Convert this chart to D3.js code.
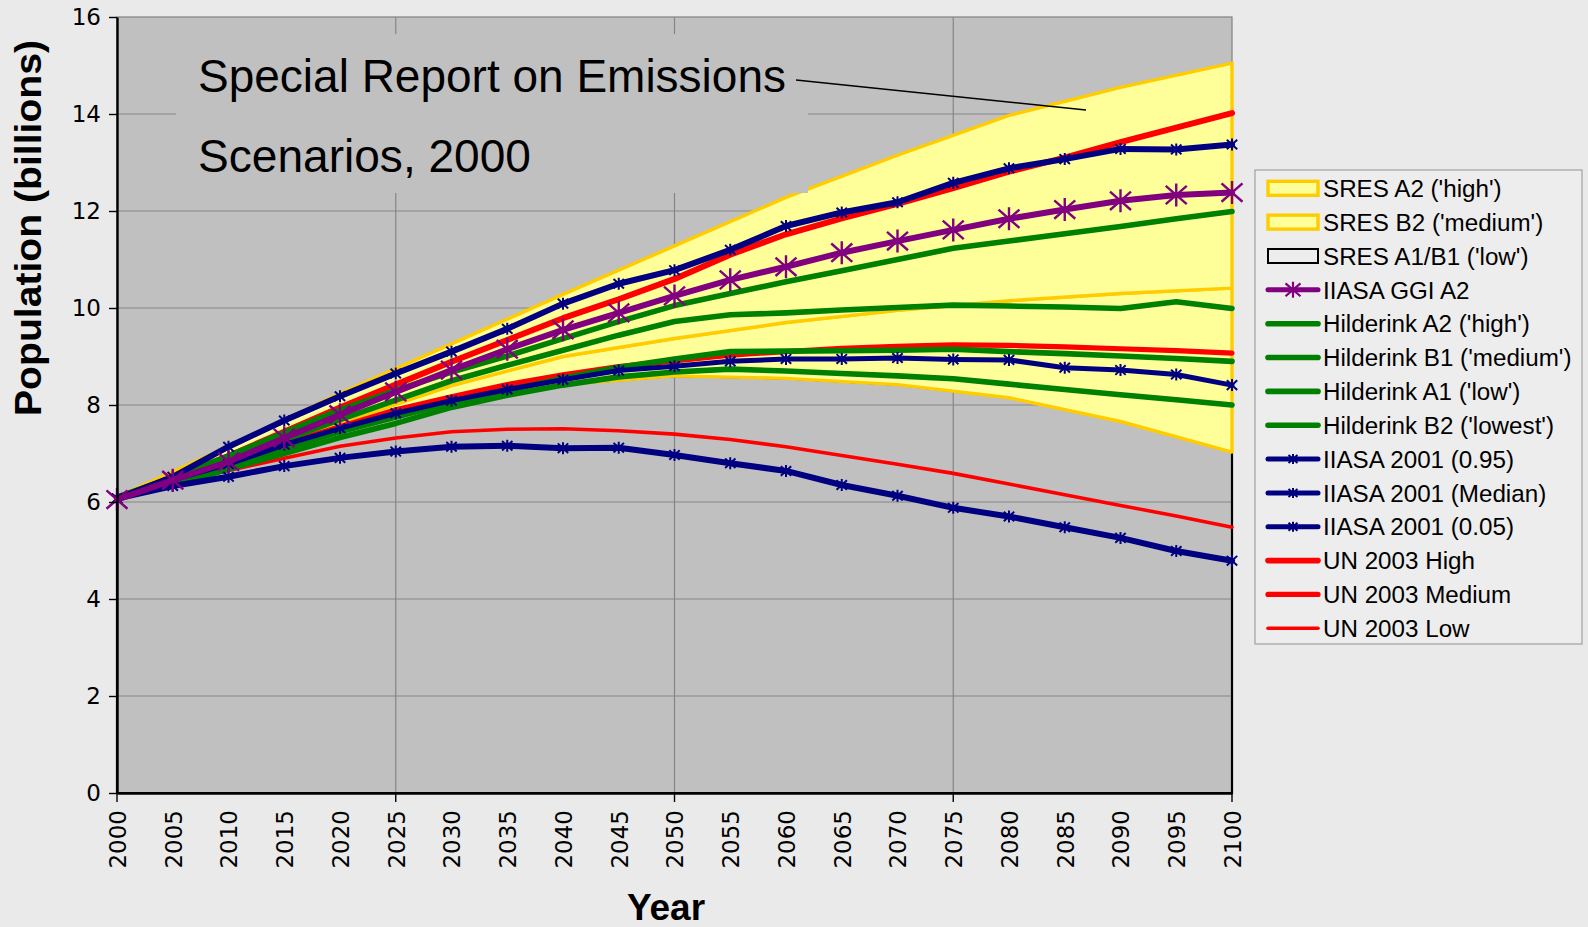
<!DOCTYPE html>
<html>
<head>
<meta charset="utf-8">
<script src="https://cdn.jsdelivr.net/npm/d3@7"></script>
<style>
  html, body { margin: 0; padding: 0; background: #eaeaea; }
  svg { display: block; }
</style>
</head>
<body>
<svg id="chart" width="1588" height="927"></svg>
<script>
// ---- data (world population, billions) ----
const sresYears  = [2000, 2010, 2020, 2030, 2040, 2050, 2060, 2070, 2080, 2090, 2100];
const sresHigh   = [6.1, 7.15, 8.24, 9.26, 10.28, 11.28, 12.28, 13.15, 13.97, 14.55, 15.05];
const sresMedium = [6.1, 6.95, 7.63, 8.4, 9.0, 9.37, 9.7, 9.95, 10.15, 10.3, 10.41];
const sresLow    = [6.1, 6.85, 7.55, 8.05, 8.42, 8.6, 8.55, 8.42, 8.15, 7.66, 7.03];

const years = [2000, 2005, 2010, 2015, 2020, 2025, 2030, 2035, 2040, 2045, 2050,
               2055, 2060, 2065, 2070, 2075, 2080, 2085, 2090, 2095, 2100];

const ggiA2 = [6.05, 6.45, 6.83, 7.32, 7.8, 8.27, 8.72, 9.15, 9.55, 9.9, 10.25,
               10.58, 10.85, 11.14, 11.38, 11.61, 11.84, 12.03, 12.21, 12.33, 12.38];
const hildA2 = [6.1, 6.5, 6.95, 7.43, 7.9, 8.3, 8.68, 9.01, 9.37, 9.72, 10.05,
                10.3, 10.54, 10.77, 11.0, 11.23, 11.38, 11.53, 11.68, 11.84, 11.99];
const hildB1 = [6.1, 6.45, 6.85, 7.28, 7.7, 8.1, 8.5, 8.82, 9.13, 9.44, 9.72,
                9.86, 9.9, 9.96, 10.01, 10.06, 10.04, 10.02, 9.99, 10.13, 9.99];
const hildA1 = [6.1, 6.4, 6.75, 7.1, 7.45, 7.75, 8.05, 8.3, 8.55, 8.78, 8.95,
                9.1, 9.11, 9.12, 9.13, 9.15, 9.1, 9.06, 9.01, 8.96, 8.9];
const hildB2 = [6.1, 6.35, 6.68, 7.0, 7.33, 7.62, 7.95, 8.2, 8.41, 8.58, 8.68,
                8.74, 8.7, 8.65, 8.6, 8.54, 8.43, 8.32, 8.21, 8.11, 8.0];
const iiasa95 = [6.07, 6.52, 7.14, 7.68, 8.18, 8.65, 9.1, 9.57, 10.09, 10.5, 10.78,
                 11.2, 11.69, 11.97, 12.18, 12.58, 12.88, 13.07, 13.28, 13.27, 13.37];
const iiasaMedian = [6.07, 6.45, 6.78, 7.18, 7.52, 7.83, 8.09, 8.32, 8.52, 8.71, 8.8,
                     8.9, 8.95, 8.95, 8.97, 8.94, 8.93, 8.77, 8.72, 8.63, 8.41];
const iiasa05 = [6.07, 6.33, 6.52, 6.74, 6.91, 7.04, 7.14, 7.16, 7.11, 7.12, 6.97,
                 6.8, 6.64, 6.35, 6.13, 5.88, 5.7, 5.48, 5.26, 4.99, 4.79];
const unHigh = [6.07, 6.5, 6.95, 7.45, 7.95, 8.42, 8.89, 9.34, 9.79, 10.18, 10.6,
                11.1, 11.52, 11.85, 12.15, 12.47, 12.81, 13.1, 13.42, 13.72, 14.02];
const unMedium = [6.07, 6.45, 6.83, 7.2, 7.55, 7.9, 8.17, 8.42, 8.62, 8.79, 8.91,
                  9.03, 9.1, 9.17, 9.21, 9.24, 9.23, 9.2, 9.16, 9.12, 9.07];
const unLow = [6.07, 6.38, 6.65, 6.9, 7.15, 7.32, 7.45, 7.5, 7.51, 7.47, 7.4,
               7.29, 7.14, 6.96, 6.78, 6.59, 6.37, 6.15, 5.93, 5.71, 5.48];

const yTickValues = [0, 2, 4, 6, 8, 10, 12, 14, 16];
const yGridValues = [2, 4, 6, 8, 10, 12, 14];
const xGridValues = [2025, 2050, 2075];
const xMajorTicks = [2000, 2025, 2050, 2075, 2100];

const legendLabels = [
  "SRES A2 ('high')", "SRES B2 ('medium')", "SRES A1/B1 ('low')", "IIASA GGI A2",
  "Hilderink A2 ('high')", "Hilderink B1 ('medium')", "Hilderink A1 ('low')", "Hilderink B2 ('lowest')",
  "IIASA 2001 (0.95)", "IIASA 2001 (Median)", "IIASA 2001 (0.05)",
  "UN 2003 High", "UN 2003 Medium", "UN 2003 Low"
];

// ---- layout ----
const plot = { left: 117, right: 1232, top: 17, bottom: 793 };
const svg = d3.select("#chart");
const x = d3.scaleLinear().domain([2000, 2100]).range([plot.left, plot.right]);
const y = d3.scaleLinear().domain([0, 16]).range([plot.bottom, plot.top]);

const NAVY = "#000080", PURPLE = "#800080", GREEN = "#008000", RED = "#ff0000";
const BAND_FILL = "#ffff99", BAND_LINE = "#ffcc00";

svg.append("rect").attr("width", 1588).attr("height", 927).attr("fill", "#eaeaea");

// plot background
svg.append("rect")
  .attr("x", plot.left).attr("y", plot.top)
  .attr("width", plot.right - plot.left).attr("height", plot.bottom - plot.top)
  .attr("fill", "#c0c0c0").attr("stroke", "#808080").attr("stroke-width", 1.2);

// gridlines
const grid = svg.append("g").attr("stroke", "#858585").attr("stroke-width", 1.2);
grid.selectAll("line.h").data(yGridValues).join("line")
  .attr("x1", plot.left).attr("x2", plot.right)
  .attr("y1", d => y(d)).attr("y2", d => y(d));
grid.selectAll("line.v").data(xGridValues).join("line")
  .attr("y1", plot.top).attr("y2", plot.bottom)
  .attr("x1", d => x(d)).attr("x2", d => x(d));

// ---- SRES band (stacked areas) ----
const band = sresYears.map((yr, i) => ({ yr, low: sresLow[i], mid: sresMedium[i], high: sresHigh[i] }));

// lowest area: outline only
svg.append("path")
  .datum(band)
  .attr("d", d3.area().x(d => x(d.yr)).y0(y(0)).y1(d => y(d.low)))
  .attr("fill", "none").attr("stroke", "#000").attr("stroke-width", 2.2);

const areaMid = d3.area().x(d => x(d.yr)).y0(d => y(d.low)).y1(d => y(d.mid));
const areaHigh = d3.area().x(d => x(d.yr)).y0(d => y(d.mid)).y1(d => y(d.high));
[areaMid, areaHigh].forEach(a => {
  svg.append("path").datum(band).attr("d", a)
    .attr("fill", BAND_FILL).attr("stroke", BAND_LINE)
    .attr("stroke-width", 3.4).attr("stroke-linejoin", "round");
});

// ---- line series ----
const line = d3.line().x(d => x(d.yr)).y(d => y(d.v));
const toPts = arr => years.map((yr, i) => ({ yr, v: arr[i] }));

function starPath(h, w) {
  const d = h * 0.8;
  return `M0,${-h}V${h}M${-w},${-d}L${w},${d}M${w},${-d}L${-w},${d}`;
}

const seriesDefs = [
  { values: unLow,       color: RED,    width: 3.6 },
  { values: unMedium,    color: RED,    width: 5.2 },
  { values: unHigh,      color: RED,    width: 6 },
  { values: hildB2,      color: GREEN,  width: 5.6 },
  { values: hildA1,      color: GREEN,  width: 5.6 },
  { values: hildB1,      color: GREEN,  width: 5.6 },
  { values: hildA2,      color: GREEN,  width: 5.6 },
  { values: iiasa05,     color: NAVY,   width: 6, marker: [6, 5.2], mw: 2 },
  { values: iiasaMedian, color: NAVY,   width: 5, marker: [6, 5.2], mw: 2 },
  { values: iiasa95,     color: NAVY,   width: 6, marker: [6, 5.2], mw: 2 },
  { values: ggiA2,       color: PURPLE, width: 6, marker: [11.5, 10.5], mw: 2.4 }
];

seriesDefs.forEach(s => {
  const pts = toPts(s.values);
  svg.append("path").datum(pts).attr("d", line)
    .attr("fill", "none").attr("stroke", s.color).attr("stroke-width", s.width)
    .attr("stroke-linejoin", "round").attr("stroke-linecap", "round");
  if (s.marker) {
    svg.append("g").selectAll("path").data(pts).join("path")
      .attr("transform", d => `translate(${x(d.yr)},${y(d.v)})`)
      .attr("d", starPath(s.marker[0], s.marker[1]))
      .attr("fill", "none").attr("stroke", s.color).attr("stroke-width", s.mw);
  }
});

// ---- annotation box ----
svg.append("rect")
  .attr("x", 176).attr("y", 34).attr("width", 632).attr("height", 159)
  .attr("fill", "#c0c0c0");
const noteFont = "'Liberation Sans', Arial, sans-serif";
svg.append("text").attr("x", 198).attr("y", 92)
  .attr("font-family", noteFont).attr("font-size", 47)
  .attr("textLength", 588).attr("lengthAdjust", "spacingAndGlyphs")
  .attr("fill", "#000").text("Special Report on Emissions");
svg.append("text").attr("x", 198).attr("y", 172)
  .attr("font-family", noteFont).attr("font-size", 47)
  .attr("textLength", 333).attr("lengthAdjust", "spacingAndGlyphs")
  .attr("fill", "#000").text("Scenarios, 2000");
svg.append("line")
  .attr("x1", 796).attr("y1", 80).attr("x2", 1086).attr("y2", 110)
  .attr("stroke", "#000").attr("stroke-width", 1.6);

// ---- axes ----
const tickFont = "'DejaVu Sans', Verdana, sans-serif";

const yAxis = svg.append("g")
  .attr("transform", `translate(${plot.left},0)`)
  .call(d3.axisLeft(y).tickValues(yTickValues).tickSize(8).tickSizeOuter(0).tickPadding(8));
yAxis.select(".domain").attr("stroke", "#000").attr("stroke-width", 2.4);
yAxis.selectAll(".tick line").attr("stroke", "#000").attr("stroke-width", 1.4);
yAxis.selectAll("text").attr("font-family", tickFont).attr("font-size", 23).attr("fill", "#000");

const xAxis = svg.append("g")
  .attr("transform", `translate(0,${plot.bottom})`)
  .call(d3.axisBottom(x).tickValues(years).tickSize(0).tickSizeOuter(0).tickFormat(d3.format("d")));
xAxis.select(".domain").attr("stroke", "#000").attr("stroke-width", 2.4);
xAxis.selectAll("text")
  .attr("font-family", tickFont).attr("font-size", 23).attr("fill", "#000")
  .attr("transform", "rotate(-90)")
  .attr("x", -17).attr("y", 0).attr("dy", "0.36em")
  .style("text-anchor", "end");
xAxis.append("g").selectAll("line").data(xMajorTicks).join("line")
  .attr("x1", d => x(d)).attr("x2", d => x(d)).attr("y1", 0).attr("y2", 9)
  .attr("stroke", "#000").attr("stroke-width", 1.4);

// axis titles
const titleFont = "'Liberation Sans', Arial, sans-serif";
svg.append("text")
  .attr("transform", `translate(41,228) rotate(-90)`)
  .attr("text-anchor", "middle")
  .attr("font-family", titleFont).attr("font-weight", "bold").attr("font-size", 36)
  .attr("textLength", 376).attr("lengthAdjust", "spacingAndGlyphs")
  .attr("fill", "#000").text("Population (billions)");
svg.append("text")
  .attr("x", 666).attr("y", 920)
  .attr("text-anchor", "middle")
  .attr("font-family", titleFont).attr("font-weight", "bold").attr("font-size", 37)
  .attr("fill", "#000").text("Year");

// ---- legend ----
const legend = svg.append("g");
legend.append("rect")
  .attr("x", 1255).attr("y", 170).attr("width", 327).attr("height", 474)
  .attr("fill", "#ededed").attr("stroke", "#a0a0a0").attr("stroke-width", 1.2);

const legendKeys = [
  { kind: "band" }, { kind: "band" }, { kind: "outline" },
  { kind: "line", color: PURPLE, width: 5, marker: [8, 7.5], mw: 2.2 },
  { kind: "line", color: GREEN, width: 5.6 }, { kind: "line", color: GREEN, width: 5.6 },
  { kind: "line", color: GREEN, width: 5.6 }, { kind: "line", color: GREEN, width: 5.6 },
  { kind: "line", color: NAVY, width: 5, marker: [5, 4.5], mw: 2 },
  { kind: "line", color: NAVY, width: 5, marker: [5, 4.5], mw: 2 },
  { kind: "line", color: NAVY, width: 5, marker: [5, 4.5], mw: 2 },
  { kind: "line", color: RED, width: 5.6 }, { kind: "line", color: RED, width: 5.2 },
  { kind: "line", color: RED, width: 3.6 }
];

const legendRow = d3.scaleLinear().domain([0, legendLabels.length - 1]).range([188.3, 628.3]);
const symX0 = 1268, symX1 = 1318;

legendLabels.forEach((label, i) => {
  const cy = legendRow(i);
  const k = legendKeys[i];
  const g = legend.append("g");
  if (k.kind === "band") {
    g.append("rect").attr("x", symX0).attr("y", cy - 7).attr("width", symX1 - symX0).attr("height", 14)
      .attr("fill", BAND_FILL).attr("stroke", BAND_LINE).attr("stroke-width", 3.4);
  } else if (k.kind === "outline") {
    g.append("rect").attr("x", symX0).attr("y", cy - 7).attr("width", symX1 - symX0).attr("height", 14)
      .attr("fill", "none").attr("stroke", "#000").attr("stroke-width", 2);
  } else {
    g.append("line").attr("x1", symX0).attr("x2", symX1).attr("y1", cy).attr("y2", cy)
      .attr("stroke", k.color).attr("stroke-width", k.width).attr("stroke-linecap", "round");
    if (k.marker) {
      g.append("path").attr("transform", `translate(${(symX0 + symX1) / 2},${cy})`)
        .attr("d", starPath(k.marker[0], k.marker[1]))
        .attr("fill", "none").attr("stroke", k.color).attr("stroke-width", k.mw);
    }
  }
  g.append("text").attr("x", 1323).attr("y", cy).attr("dy", "0.36em")
    .attr("font-family", "'Liberation Sans', Arial, sans-serif").attr("font-size", 24.2)
    .attr("fill", "#000").text(label);
});
</script>
</body>
</html>
